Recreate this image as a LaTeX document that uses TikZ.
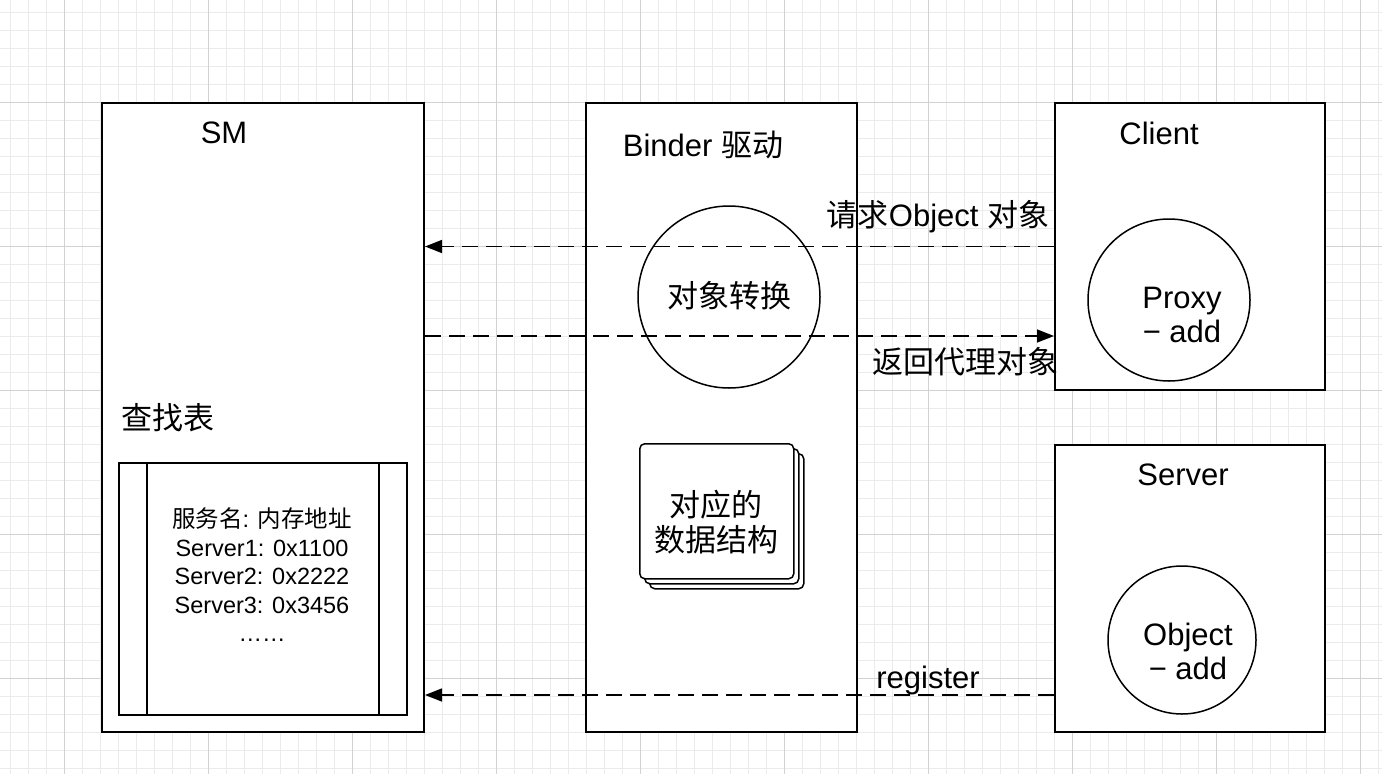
\documentclass[tikz,border=0pt]{standalone}
\usepackage{fontspec}
\setmainfont{Liberation Sans}
\newfontfamily\cjk{Noto Sans CJK SC}
\usetikzlibrary{arrows.meta}
\definecolor{gridminor}{HTML}{EBEBEB}
\definecolor{gridmajor}{HTML}{D2D2D2}
\begin{document}
\begin{tikzpicture}[x=1pt,y=-1pt,
  box/.style={draw, line width=2pt, fill=white, anchor=north west, inner sep=0pt},
  circ/.style={draw, circle, line width=1.5pt, fill=white, inner sep=0pt},
  big/.style={font=\fontsize{31}{34}\selectfont, align=center, inner sep=0pt},
  small/.style={font=\fontsize{23.5}{28.5}\selectfont, align=center, inner sep=0pt},
  doc/.style={draw, line width=1.5pt, fill=white, rounded corners=5pt, anchor=north west, minimum width=154pt, minimum height=135pt, inner sep=0pt},
  conn/.style={line width=1.5pt, dash pattern=on 16pt off 8pt, -{Triangle[length=17pt,width=13pt]}}
]
\useasboundingbox (0,0) rectangle (1382,774);
\fill[white] (0,0) rectangle (1382,774);
% grid
\foreach \x in {10,28,...,1382} \draw[gridminor, line width=1pt] (\x,0) -- (\x,774);
\foreach \y in {12,30,...,774} \draw[gridminor, line width=1pt] (0,\y) -- (1382,\y);
\foreach \x in {64,208,...,1382} \draw[gridmajor, line width=1pt] (\x,0) -- (\x,774);
\foreach \y in {102,246,...,774} \draw[gridmajor, line width=1pt] (0,\y) -- (1382,\y);

% main boxes
\node[box, minimum width=322pt, minimum height=629pt] (sm) at (101,102) {};
\node[box, minimum width=271pt, minimum height=629pt] (binder) at (585,102) {};
\node[box, minimum width=270pt, minimum height=287pt] (client) at (1054,102) {};
\node[box, minimum width=270pt, minimum height=287pt] (server) at (1054,444) {};

% titles
\node[big] (smt) at (224,133) {SM};
\node[big] (bdt) at (703,145) {Binder {\cjk 驱动}};
\node[big] (clt) at (1159,133) {Client};
\node[big] (svt) at (1183,475) {Server};

% SM contents
\node[big] (lookup) at (168,418) {\cjk 查找表};
\node[box, minimum width=288pt, minimum height=252pt] (tbl) at (118,462) {};
\draw[line width=2pt] ([xshift=29pt]tbl.north west) -- ([xshift=29pt]tbl.south west);
\draw[line width=2pt] ([xshift=-29pt]tbl.north east) -- ([xshift=-29pt]tbl.south east);
\node[small] (tbltext) at (262,575) {{\cjk 服务名}: {\cjk 内存地址}\\Server1: 0x1100\\Server2: 0x2222\\Server3: 0x3456\\……};

% Binder contents
\node[circ, minimum size=182pt] (conv) at (729,297) {};
\node[big] (convt) at (729,296) {\cjk 对象转换};
\node[doc] (d3) at (649,453) {};
\node[doc] (d2) at (644,448) {};
\node[doc] (d1) at (639,443) {};
\node[big, font=\fontsize{31}{35}\selectfont\cjk] (dt) at (716,522) {对应的\\数据结构};

% Client / Server contents
\node[circ, minimum size=162pt] (proxy) at (1169,300) {};
\node[big] (proxyt) at (1182,315) {Proxy\\− add};
\node[circ, minimum size=148pt] (obj) at (1182,640) {};
\node[big] (objt) at (1188,651) {Object\\− add};

% connectors
\coordinate (retstart) at (sm.east |- 0,336);
\coordinate (regstart) at (server.west |- 0,695);
\draw[conn] (client.west) -- (client.west -| sm.east);
\draw[conn] (retstart) -- (retstart -| client.west);
\draw[conn] (regstart) -- (regstart -| sm.east);

% labels
\node[big] (lreq) at (938,217) {{\cjk 请求}Object {\cjk 对象}};
\node[big] (lret) at (965,362) {\cjk 返回代理对象};
\node[big] (lreg) at (928,680) {register};
\end{tikzpicture}
\end{document}
